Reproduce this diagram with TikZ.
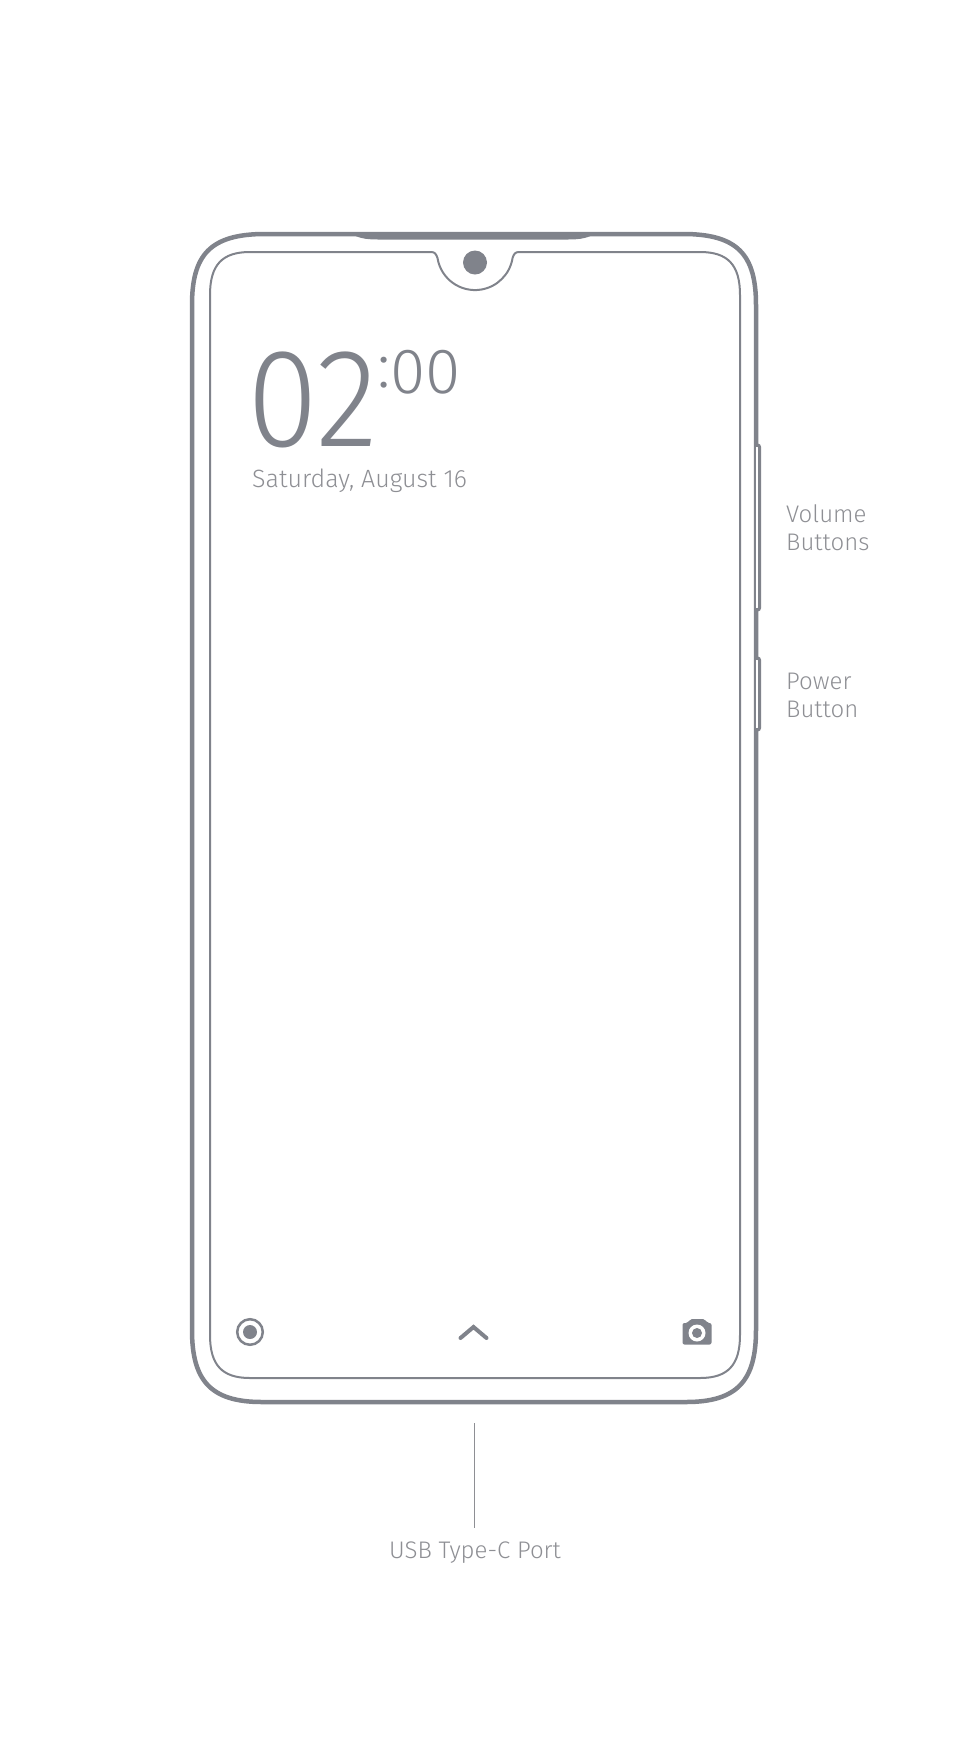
\documentclass[tikz,border=0pt]{standalone}
\usepackage{fontspec}
\setmainfont{Fira Sans Light}
\definecolor{phonegray}{HTML}{80838B}
\definecolor{labelgray}{HTML}{8E8F94}
\tikzstyle{outerline}=[phonegray,line width=4.5pt]
\tikzstyle{innerline}=[phonegray,line width=2pt]
\tikzstyle{buttonline}=[phonegray,line width=3pt,rounded corners=2pt]
\tikzstyle{caption}=[labelgray,anchor=base west,inner sep=0pt,font=\fontsize{24}{24}\selectfont]
\tikzstyle{clockdigit}=[phonegray,inner sep=0pt,anchor=base west,text depth=0pt]
\newcommand{\sideButton}[2]{
	\fill[white] (756,#1+2) rectangle (758.2,#2-2);
	\draw[buttonline] (755,#1) -- (759.5,#1) -- (759.5,#2) -- (755,#2);
}
\begin{document}
\begin{tikzpicture}[x=1pt,y=-1pt]
	\useasboundingbox (0,0) rectangle (954,1762);
	% body
	\draw[outerline] (192,305) .. controls (192,255) and (210,234) .. (265,234) -- (683,234)
		.. controls (738,234) and (756,255) .. (756,305) -- (756,1330)
		.. controls (756,1380) and (738,1402) .. (686,1402) -- (262,1402)
		.. controls (210,1402) and (192,1380) .. (192,1330) -- cycle;
	\fill[phonegray] (350,233) .. controls (358,238) and (365,239.5) .. (378,239.5) -- (568,239.5)
		.. controls (581,239.5) and (588,238) .. (596,233) -- cycle;
	\sideButton{445}{610}
	\sideButton{658}{730}
	% screen with notch
	\draw[innerline] (210,295) .. controls (210,265) and (222,252) .. (250,252) -- (431,252)
		.. controls (435,252) and (436,254) .. (437.5,258) arc (171:9:38)
		.. controls (514,254) and (515,252) .. (519,252) -- (700,252)
		.. controls (728,252) and (740,265) .. (740,295) -- (740,1335)
		.. controls (740,1365) and (728,1378) .. (700,1378) -- (250,1378)
		.. controls (222,1378) and (210,1365) .. (210,1335) -- cycle;
	\fill[phonegray] (475,262.5) circle (12);
	% clock
	\node[clockdigit,xscale=0.92] (hours) at (247,446) {\fontsize{140}{140}\selectfont 02};
	\node[clockdigit] (minutes) at (377,393) {\fontsize{64}{64}\selectfont \raisebox{6pt}{:}00};
	\node[caption,font=\fontsize{25}{25}\selectfont] (date) at (252,487) {Saturday, August 16};
	% bottom icons
	\draw[phonegray,line width=2.5pt] (250,1332) circle (12.8);
	\fill[phonegray] (250,1332) circle (7);
	\draw[phonegray,line width=4pt,line cap=round] (460.5,1338) -- (473.5,1327) -- (486.5,1338);
	\fill[phonegray,rounded corners=2pt] (682.5,1323) -- (688,1323) -- (690,1319) -- (705,1319) -- (707,1323) -- (711.5,1323) -- (711.5,1344.5) -- (682.5,1344.5) -- cycle;
	\fill[white] (697,1333) circle (8.5);
	\fill[phonegray] (697,1333) circle (5);
	% labels
	\node[caption] (volume) at (786,522) {Volume};
	\node[caption] (buttons) at (786,550) {Buttons};
	\node[caption] (power) at (786,689) {Power};
	\node[caption] (button) at (786,717) {Button};
	\coordinate (porttop) at (474.5,1423);
	\node[caption,anchor=base,text height=30pt] (usbport) at (475,1558) {USB Type-C Port};
	\draw[labelgray,line width=1pt] (porttop) -- (porttop |- usbport.north);
\end{tikzpicture}
\end{document}
